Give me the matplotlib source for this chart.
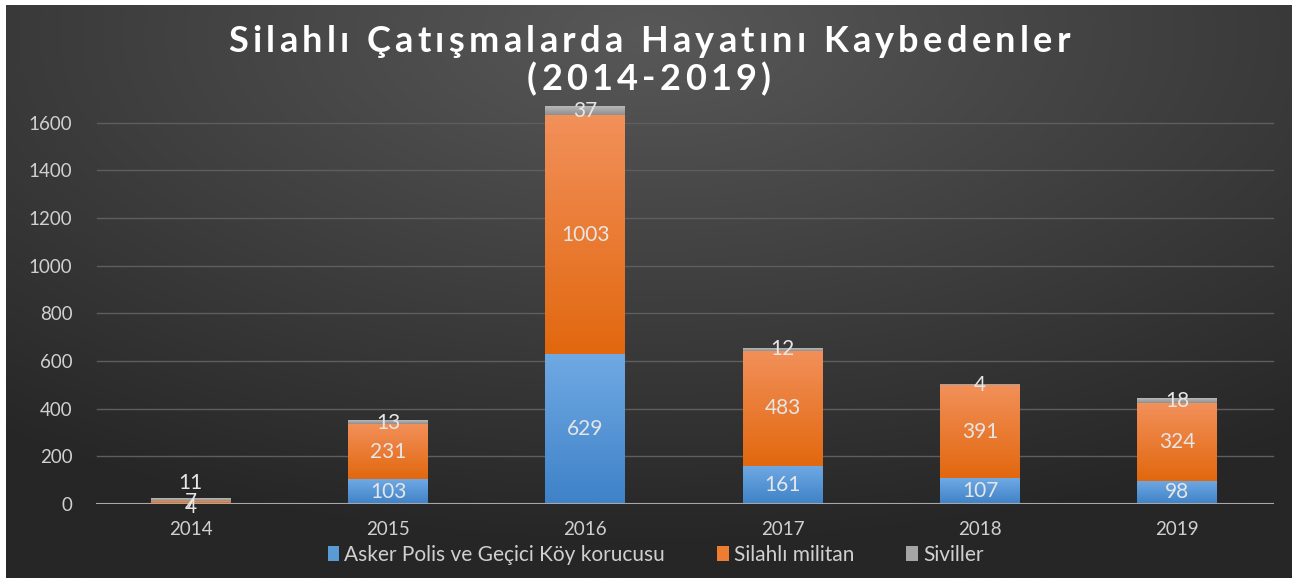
import numpy as np
import matplotlib.pyplot as plt
from matplotlib.colors import to_rgb
from matplotlib.patches import Patch
from matplotlib.font_manager import FontProperties

years = ["2014", "2015", "2016", "2017", "2018", "2019"]
security = [4, 103, 629, 161, 107, 98]
militants = [7, 231, 1003, 483, 391, 324]
civilians = [11, 13, 37, 12, 4, 18]

series_names = ["Asker Polis ve Geçici Köy korucusu", "Silahlı militan", "Siviller"]
title_lines = ["Silahlı Çatışmalarda Hayatını Kaybedenler", "(2014-2019)"]

# (top colour, bottom colour) for each series
grads = [("#6fa9e3", "#3f82c8"), ("#f2905a", "#e2680f"), ("#b8b8b8", "#8f8f8f")]
legend_cols = ["#5b9bd5", "#ed7d31", "#a5a5a5"]

W, H = 1298, 583
plt.rcParams["font.family"] = ["Lato", "DejaVu Sans"]

fig = plt.figure(figsize=(W / 100, H / 100), dpi=100)
fig.patch.set_facecolor("white")

# dark radial background panel
bg = fig.add_axes([6 / W, 5 / H, 1286 / W, 573 / H])
yy, xx = np.mgrid[0:1:300j, 0:1:600j]
r = np.sqrt(((xx - 0.5) * 1.1) ** 2 + ((yy - 0.05) * 1.0) ** 2)
r = np.clip(r / 0.9, 0, 1)
c0, c1 = np.array(to_rgb("#585858")), np.array(to_rgb("#262626"))
img = c0[None, None, :] * (1 - r[..., None]) + c1[None, None, :] * r[..., None]
bg.imshow(img, aspect="auto", extent=[0, 1, 0, 1], origin="upper")
bg.set_axis_off()

ax = fig.add_axes([92 / W, (H - 504) / H, (1276 - 92) / W, (504 - 75) / H])
ax.set_facecolor("none")
ax.set_xticks(range(len(years)))
ax.set_xticklabels(years)
ax.set_yticks(range(0, 1601, 200))
ax.tick_params(colors="#d0d0d0", labelsize=13.5, length=0)
ax.tick_params(axis="y", pad=14)
ax.tick_params(axis="x", pad=12)
for s in ax.spines.values():
    s.set_visible(False)
for t in range(200, 1601, 200):
    ax.axhline(t, color="#5e5e5e", lw=1, zorder=0, xmin=0.004, xmax=0.9975)
ax.axhline(0, color="#a8a8a8", lw=1.5, zorder=3, xmin=0.004, xmax=0.9975)

w = 0.405
x = np.arange(len(years))
bottoms = np.zeros(len(years))
for vals, (ctop, cbot) in zip([security, militants, civilians], grads):
    grad = np.linspace(0, 1, 50)[:, None]
    ct, cb = np.array(to_rgb(ctop)), np.array(to_rgb(cbot))
    gimg = ct[None, None, :] * (1 - grad[..., None]) + cb[None, None, :] * grad[..., None]
    for i, v in enumerate(vals):
        b = bottoms[i]
        ax.imshow(gimg, aspect="auto", origin="upper",
                  extent=[x[i] - w / 2, x[i] + w / 2, b, b + v], zorder=2)
    bottoms = bottoms + np.array(vals)
ax.set_xlim(-0.5, 5.5)
ax.set_ylim(0, 1800)

# data labels (the tiny 2014 bar: labels pushed around like in the original)
bottoms = np.zeros(len(years))
for k, vals in enumerate([security, militants, civilians]):
    for i, v in enumerate(vals):
        yc = bottoms[i] + v / 2
        if i == 0:
            yc = [-12, 8, 90][k]
        ax.text(x[i], yc, str(v), ha="center", va="center", color="#e6e6e6",
                fontsize=15, zorder=4)
    bottoms = bottoms + np.array(vals)

# title with wide letter spacing, laid out char by char
fig.canvas.draw()
rend = fig.canvas.get_renderer()
fp = FontProperties(family=["Lato", "DejaVu Sans"], weight="bold", size=26)


def adv(s):
    # advance width in px, spaces measured between two letters
    a = rend.get_text_width_height_descent("x" + s + "x", fp, ismath=False)[0]
    b = rend.get_text_width_height_descent("xx", fp, ismath=False)[0]
    return a - b


w1 = [adv(c) for c in title_lines[0]]
track = (842 - sum(w1)) / (len(w1) - 1)
for line, yc in zip(title_lines, [42, 79]):
    widths = [adv(c) for c in line]
    total = sum(widths) + track * (len(widths) - 1)
    xp = W / 2 - total / 2
    for c, cw in zip(line, widths):
        fig.text(xp / W, 1 - yc / H, c, ha="left", va="center", color="white",
                 fontproperties=fp)
        xp += cw + track

handles = [Patch(facecolor=c, edgecolor="none") for c in legend_cols]
leg = fig.legend(handles, series_names, loc="center", bbox_to_anchor=(0.505, 1 - 555 / H),
                 ncol=3, frameon=False, fontsize=15, handlelength=0.55,
                 handleheight=0.75, handletextpad=0.25, columnspacing=2.5)
for t in leg.get_texts():
    t.set_color("#d0d0d0")

fig.savefig("out.png", dpi=100, facecolor="white")
